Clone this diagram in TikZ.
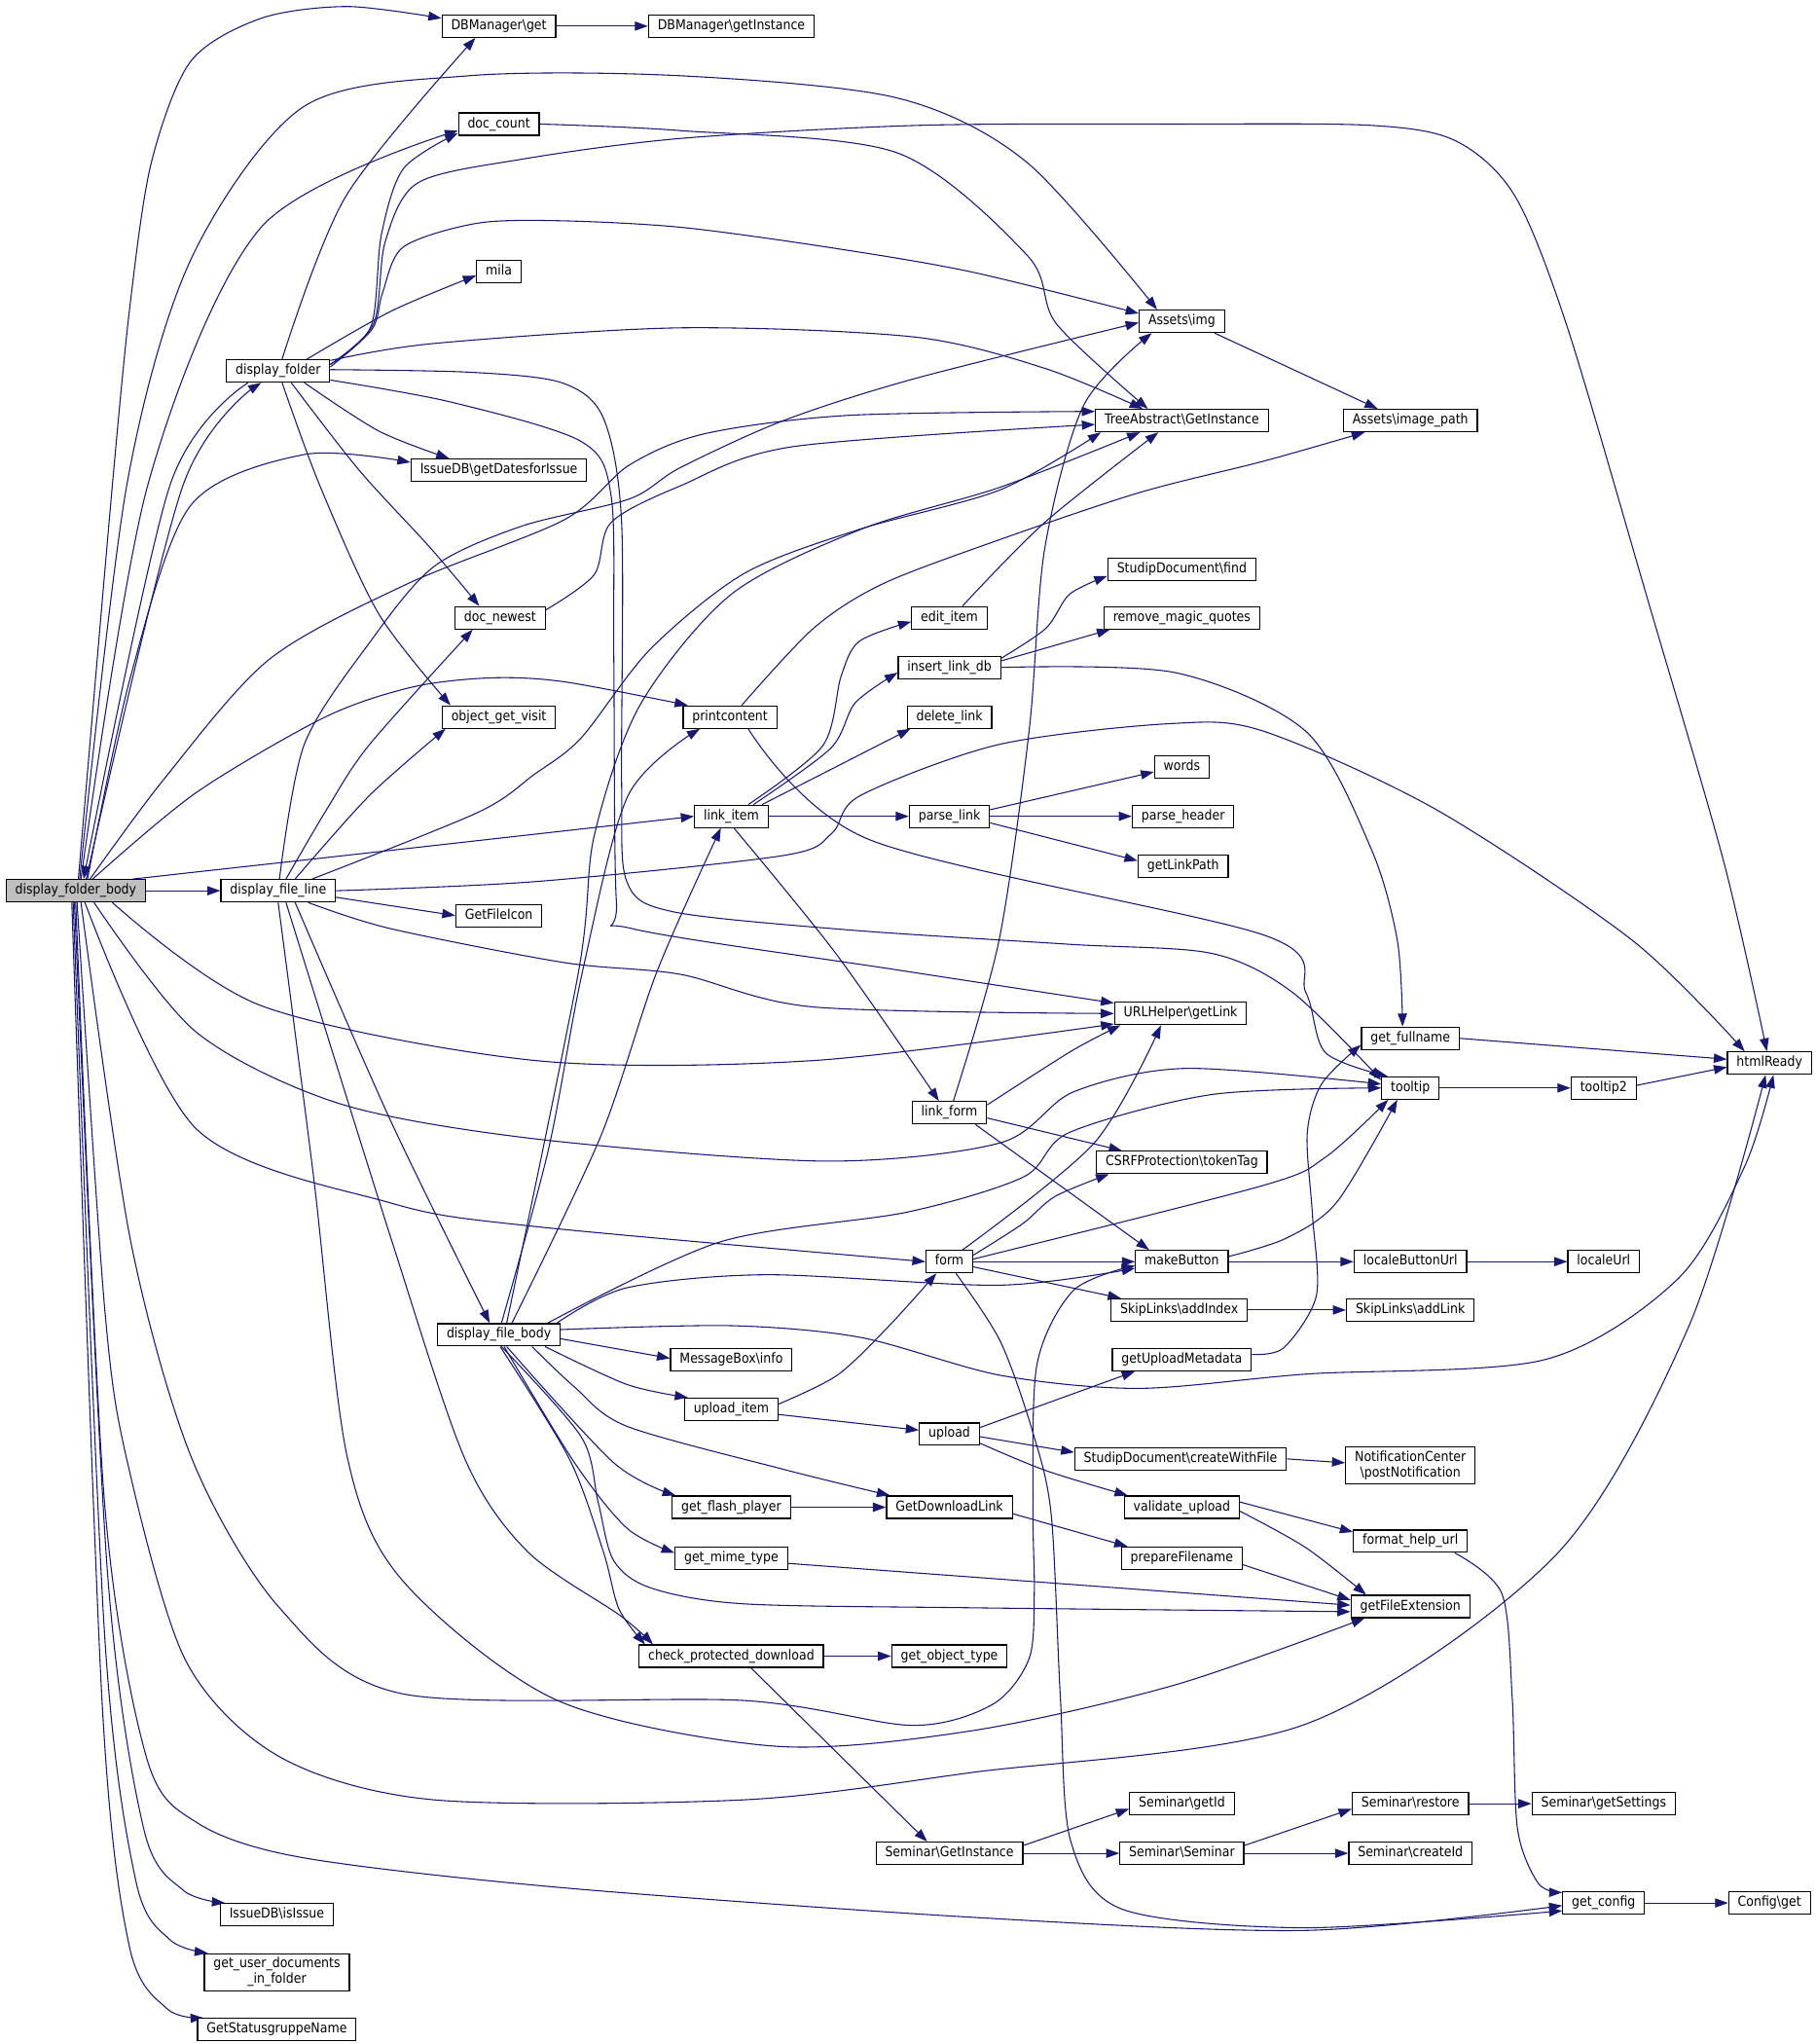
\documentclass[tikz,border=0pt]{standalone}
\usepackage{fontspec}
\setmainfont{DejaVu Sans}[FakeStretch=0.89]
\usetikzlibrary{arrows.meta,backgrounds}
\definecolor{edgeblue}{HTML}{191970}
\definecolor{rootgray}{HTML}{BFBFBF}

\begin{document}
\begin{tikzpicture}[x=1pt, y=-1pt,
    fn/.style={draw=black, fill=white, line width=0.9pt, inner xsep=7pt, inner ysep=3.5pt,
      text height=7.7pt, text depth=2.4pt, font=\fontsize{10.5}{12}\selectfont},
    fnroot/.style={fn, fill=rootgray},
    fntwo/.style={draw=black, fill=white, line width=0.9pt, inner xsep=7pt, inner ysep=3pt,
      align=center, font=\fontsize{10.5}{12}\selectfont},
    call/.style={draw=edgeblue, line width=0.8pt, -{Triangle[length=10pt,width=7pt]}}]
    \useasboundingbox (0,0) rectangle (1390,1565);

    % Column 1 and 2
    \node[fnroot] (dfb) at (58,682) {display\_folder\_body};
    \node[fn] (dfolder) at (213,284) {display\_folder};
    \node[fn] (dfline) at (213,682) {display\_file\_line};
    \node[fn] (isissue) at (212,1466) {IssueDB\textbackslash isIssue};
    \node[fntwo] (userdocs) at (212,1510) {get\_user\_documents\\\_in\_folder};
    \node[fn] (statusgr) at (212,1554) {GetStatusgruppeName};

    % Column 3
    \node[fn] (dbget) at (382,20) {DBManager\textbackslash get};
    \node[fn] (doccount) at (382,95) {doc\_count};
    \node[fn] (mila) at (382,208) {mila};
    \node[fn] (datesissue) at (382,360) {IssueDB\textbackslash getDatesforIssue};
    \node[fn] (docnewest) at (383,473) {doc\_newest};
    \node[fn] (visit) at (382,549) {object\_get\_visit};
    \node[fn] (fileicon) at (382,701) {GetFileIcon};
    \node[fn] (dfbody) at (382,1022) {display\_file\_body};

    % Column 4
    \node[fn] (dbinst) at (560,20) {DBManager\textbackslash getInstance};
    \node[fn] (printc) at (559,549) {printcontent};
    \node[fn] (linkitem) at (560,625) {link\_item};
    \node[fn] (msginfo) at (560,1041) {MessageBox\textbackslash info};
    \node[fn] (uploaditem) at (560,1079) {upload\_item};
    \node[fn] (flash) at (560,1154) {get\_flash\_player};
    \node[fn] (mime) at (560,1193) {get\_mime\_type};
    \node[fn] (checkdl) at (560,1268) {check\_protected\_download};

    % Column 5
    \node[fn] (edititem) at (727,473) {edit\_item};
    \node[fn] (insertdb) at (727,511) {insert\_link\_db};
    \node[fn] (deletelink) at (727,549) {delete\_link};
    \node[fn] (parselink) at (727,625) {parse\_link};
    \node[fn] (linkform) at (727,852) {link\_form};
    \node[fn] (form) at (727,966) {form};
    \node[fn] (upload) at (727,1098) {upload};
    \node[fn] (getdl) at (727,1154) {GetDownloadLink};
    \node[fn] (objtype) at (727,1268) {get\_object\_type};
    \node[fn] (seminst) at (727,1419) {Seminar\textbackslash GetInstance};

    % Column 6
    \node[fn] (img) at (905,246) {Assets\textbackslash img};
    \node[fn] (treeinst) at (905,322) {TreeAbstract\textbackslash GetInstance};
    \node[fn] (sdfind) at (905,436) {StudipDocument\textbackslash find};
    \node[fn] (magic) at (905,473) {remove\_magic\_quotes};
    \node[fn] (words) at (905,587) {words};
    \node[fn] (parsehdr) at (906,625) {parse\_header};
    \node[fn] (linkpath) at (906,663) {getLinkPath};
    \node[fn] (urlget) at (904,776) {URLHelper\textbackslash getLink};
    \node[fn] (csrf) at (905,890) {CSRFProtection\textbackslash tokenTag};
    \node[fn] (mkbutton) at (905,966) {makeButton};
    \node[fn] (addindex) at (903,1003) {SkipLinks\textbackslash addIndex};
    \node[fn] (uploadmeta) at (905,1041) {getUploadMetadata};
    \node[fn] (createfile) at (904,1117) {StudipDocument\textbackslash createWithFile};
    \node[fn] (validate) at (905,1154) {validate\_upload};
    \node[fn] (prepname) at (905,1193) {prepareFilename};
    \node[fn] (semid) at (905,1381) {Seminar\textbackslash getId};
    \node[fn] (semsem) at (905,1419) {Seminar\textbackslash Seminar};

    % Column 7
    \node[fn] (imgpath) at (1080,322) {Assets\textbackslash image\_path};
    \node[fn] (fullname) at (1080,795) {get\_fullname};
    \node[fn] (tooltip) at (1080,833) {tooltip};
    \node[fn] (lbuttonurl) at (1080,966) {localeButtonUrl};
    \node[fn] (addlink) at (1080,1003) {SkipLinks\textbackslash addLink};
    \node[fntwo] (notify) at (1080,1122) {NotificationCenter\\\textbackslash postNotification};
    \node[fn] (helpurl) at (1080,1180) {format\_help\_url};
    \node[fn] (fileext) at (1080,1230) {getFileExtension};
    \node[fn] (restore) at (1080,1381) {Seminar\textbackslash restore};
    \node[fn] (createid) at (1080,1419) {Seminar\textbackslash createId};

    % Columns 8 and 9
    \node[fn] (tooltiptwo) at (1228,833) {tooltip2};
    \node[fn] (localeurl) at (1228,966) {localeUrl};
    \node[fn] (settings) at (1228,1381) {Seminar\textbackslash getSettings};
    \node[fn] (getconfig) at (1228,1457) {get\_config};
    \node[fn] (htmlready) at (1355,814) {htmlReady};
    \node[fn] (configget) at (1355,1457) {Config\textbackslash get};

    \begin{scope}[on background layer]
    \fill[white] (0,0) rectangle (1390,1565);

    % Calls of display_folder_body
    \draw[call] plot[smooth] coordinates {([xshift=2]dfb.north) (86,372) (100,230) (116,124) (146,47) (200,14) (266,5) ([yshift=6]dbget.west)};
    \draw[call] plot[smooth] coordinates {([xshift=3]dfb.north) (97,372) (146,199) (232,82) (359,58) (521,58) (687,75) (786,124) ([xshift=-19]img.north)};
    \draw[call] plot[smooth] coordinates {([xshift=4]dfb.north) (113,372) (200,174) ([yshift=-5]doccount.west)};
    \draw[call] plot[smooth] coordinates {([xshift=8]dfb.north) (140,372) ([xshift=-13]dfolder.south)};
    \draw[call] plot[smooth] coordinates {([xshift=9]dfb.north) (100,518) (146,387) (233,348) ([yshift=6]datesissue.west)};
    \draw[call] plot[smooth] coordinates {([xshift=11]dfb.north) (126,596) (206,505) (312,447) (432,398) (482,356) (540,332) (650,318) ([yshift=7]treeinst.west)};
    \draw[call] plot[smooth] coordinates {([xshift=13]dfb.north) (150,607) (249,549) (316,526) (376,519) (432,522) ([xshift=4]printc.north west)};
    \draw[call] plot[smooth] coordinates {([xshift=-10]dfb.north east) (300,651) (linkitem.west)};
    \draw[call] (dfb.east) -- (dfline.west);
    \draw[call] plot[smooth] coordinates {([xshift=28]dfb.south) (200,770) (410,812) (623,812) ([yshift=-8]urlget.west)};
    \draw[call] plot[smooth] coordinates {([xshift=14]dfb.south) (150,790) (260,845) (410,872) (631,889) (766,875) (822,836) (908,818) ([yshift=3]tooltip.west)};
    \draw[call] plot[smooth] coordinates {([xshift=7]dfb.south) (150,864) (299,921) (409,939) (form.west)};
    \draw[call] plot[smooth] coordinates {([xshift=4]dfb.south) (100,950) (147,1117) (214,1231) (309,1297) (570,1302) (698,1321) (760,1305) (788,1270) (792,1220) (791,1154) (794,1045) (822,988) ([yshift=-3]mkbutton.west)};
    \draw[call] plot[smooth] coordinates {([xshift=1]dfb.south) (80,1000) (97,1117) (142,1271) (214,1345) (332,1378) (570,1378) (745,1357) (1000,1320) (1191,1191) (1293,1016) ([xshift=-3]htmlready.south)};
    \draw[call] plot[smooth] coordinates {(dfb.south) (80,1150) (112,1345) (150,1395) (230,1422) (427,1445) (745,1468) (1000,1478) ([yshift=-2]getconfig.west)};
    \draw[call] plot[smooth] coordinates {([xshift=-1]dfb.south) (82,1200) (110,1400) (140,1447) ([xshift=4]isissue.north west)};
    \draw[call] plot[smooth] coordinates {([xshift=-2]dfb.south) (80,1250) (104,1440) (130,1485) ([xshift=3]userdocs.north west)};
    \draw[call] plot[smooth] coordinates {([xshift=-3]dfb.south) (78,1300) (99,1490) (128,1538) ([xshift=5]statusgr.north west)};

    % Calls of display_folder
    \draw[call] plot[smooth] coordinates {([xshift=-23]dfolder.south) (130,372) ([xshift=6]dfb.north)};
    \draw[call] plot[smooth] coordinates {([xshift=3]dfolder.north) (265,150) ([xshift=-18]dbget.south)};
    \draw[call] plot[smooth] coordinates {([yshift=5]dfolder.east) (284,250) (292,180) (309,129) ([yshift=-7]doccount.west)};
    \draw[call] plot[smooth] coordinates {([xshift=22]dfolder.north) (300,238) ([yshift=-3]mila.west)};
    \draw[call] plot[smooth] coordinates {([yshift=5]dfolder.east) (286,248) (295,185) (320,140) (399,122) (521,106) (703,96) (900,95) (1050,96) (1115,108) (1160,150) (1200,250) (1262,460) (1320,660) ([xshift=-2]htmlready.north)};
    \draw[call] plot[smooth] coordinates {([yshift=3]dfolder.east) (285,252) (293,224) (309,189) (365,171) (428,169) (521,174) (632,189) (743,208) ([yshift=6]img.west)};
    \draw[call] plot[smooth] coordinates {([yshift=8]dfolder.east) (332,263) (521,251) (700,258) (800,282) ([xshift=-30]treeinst.north)};
    \draw[call] plot[smooth] coordinates {([xshift=20]dfolder.south) (290,330) ([xshift=-38]datesissue.north)};
    \draw[call] plot[smooth] coordinates {([xshift=10]dfolder.south) (275,360) (330,420) ([xshift=-16]docnewest.north)};
    \draw[call] plot[smooth] coordinates {([xshift=3]dfolder.south) (245,372) (290,470) ([xshift=-37]visit.north)};
    \draw[call] plot[smooth] coordinates {([yshift=-7]dfolder.east) (346,308) (445,338) (468,380) (470,500) (472,690) (484,711) (683,742) ([yshift=8]urlget.west)};
    \draw[call] plot[smooth] coordinates {([yshift=1]dfolder.east) (360,285) (430,293) (462,320) (476,400) (476,600) (480,675) (515,698) (650,712) (819,723) (928,730) (990,760) ([yshift=6]tooltip.west)};

    % Calls of display_file_line
    \draw[call] plot[smooth] coordinates {([xshift=6]dfline.north) (250,620) (283,570) ([xshift=-21]docnewest.south)};
    \draw[call] plot[smooth] coordinates {([xshift=13]dfline.north) (283,609) ([xshift=3]visit.south west)};
    \draw[call] plot[smooth] coordinates {([xshift=1]dfline.north) (233,570) (283,492) (332,434) (399,403) (482,382) (521,358) (600,322) (700,290) ([yshift=-1]img.west)};
    \draw[call] plot[smooth] coordinates {([xshift=26]dfline.north) (366,622) (409,593) (445,565) (498,497) (570,439) (659,405) (766,375) ([xshift=-62]treeinst.south)};
    \draw[call] plot[smooth] coordinates {(dfline.east) (410,675) (600,655) (637,638) (659,609) (765,570) (897,554) (968,560) (1100,620) (1250,720) ([xshift=-19]htmlready.north)};
    \draw[call] plot[smooth] coordinates {([xshift=23]dfline.south) (299,711) (432,737) (521,746) (623,771) (urlget.west)};
    \draw[call] ([yshift=-5]dfline.east) -- (fileicon.west);
    \draw[call] plot[smooth] coordinates {([xshift=13]dfline.south) (300,860) ([xshift=-7]dfbody.north)};
    \draw[call] plot[smooth] coordinates {([xshift=6]dfline.south) (300,950) (356,1117) (404,1188) (475,1237) ([xshift=-60]checkdl.north)};
    \draw[call] plot[smooth] coordinates {(dfline.south) (240,900) (266,1116) (309,1211) (427,1302) (594,1337) (745,1325) (900,1290) ([xshift=-35]fileext.south)};

    % Calls of display_file_body
    \draw[call] plot[smooth] coordinates {([xshift=6]dfbody.north) (443,744) (455,640) (490,540) (560,455) (660,405) (766,373) ([xshift=-32]treeinst.south)};
    \draw[call] plot[smooth] coordinates {([xshift=2]dfbody.north) (420,880) (446,744) (481,609) ([xshift=-23]printc.south)};
    \draw[call] plot[smooth] coordinates {([xshift=10]dfbody.north) (460,870) (503,744) ([xshift=-8]linkitem.south)};
    \draw[call] plot[smooth] coordinates {([xshift=-10]dfbody.north east) (551,951) (695,928) (784,901) (819,867) (928,838) (tooltip.west)};
    \draw[call] plot[smooth] coordinates {([xshift=-3]dfbody.north east) (480,986) (587,976) (765,984) ([yshift=-5]mkbutton.west)};
    \draw[call] plot[smooth] coordinates {([yshift=4]dfbody.east) (560,1015) (659,1024) (766,1053) (872,1063) (1001,1052) (1183,1041) (1285,979) (1336,893) ([xshift=3]htmlready.south)};
    \draw[call] ([yshift=-3]dfbody.east) -- ([yshift=1]msginfo.west);
    \draw[call] plot[smooth] coordinates {([xshift=-12]dfbody.south east) (480,1060) ([xshift=3]uploaditem.north west)};
    \draw[call] plot[smooth] coordinates {([xshift=-22]dfbody.south east) (440,1062) (480,1092) (600,1125) ([xshift=3]getdl.north west)};
    \draw[call] plot[smooth] coordinates {([xshift=6]dfbody.south) (470,1120) ([xshift=3]flash.north west)};
    \draw[call] plot[smooth] coordinates {([xshift=4]dfbody.south) (440,1120) (480,1170) ([yshift=4]mime.west)};
    \draw[call] plot[smooth] coordinates {([xshift=1]dfbody.south) (436,1117) (462,1188) (474,1232) ([xshift=-66]checkdl.north)};
    \draw[call] plot[smooth] coordinates {([xshift=2]dfbody.south) (445,1100) (458,1150) (470,1195) (499,1216) (570,1228) (745,1231) ([yshift=-4]fileext.west)};

    % link_item and its callees
    \draw[call] plot[smooth] coordinates {([xshift=13]linkitem.north) (630,571) (644,518) (658,491) ([yshift=-3]edititem.west)};
    \draw[call] plot[smooth] coordinates {([xshift=17]linkitem.north) (636,573) (655,538) ([yshift=-4]insertdb.west)};
    \draw[call] ([xshift=-5]linkitem.north east) -- ([xshift=3]deletelink.south west);
    \draw[call] (linkitem) -- (parselink);
    \draw[call] plot[smooth] coordinates {([xshift=2]linkitem.south) (640,730) ([xshift=-8]linkform.north)};
    \draw[call] plot[smooth] coordinates {([xshift=10]edititem.north) (800,400) ([xshift=-18]treeinst.south)};
    \draw[call] plot[smooth] coordinates {([yshift=7]insertdb.east) (801,481) (819,455) ([yshift=-5]sdfind.west)};
    \draw[call] ([yshift=5]insertdb.east) -- ([xshift=5]magic.south west);
    \draw[call] plot[smooth] coordinates {(insertdb.east) (900,515) (1000,560) (1050,650) (1070,720) ([xshift=-6]fullname.north)};
    \draw[call] plot[smooth] coordinates {([xshift=9]printc.north) (623,481) (676,447) (766,413) (873,377) (968,353) ([xshift=-35]imgpath.south)};
    \draw[call] plot[smooth] coordinates {([xshift=14]printc.south) (666,643) (968,716) (1000,760) (1015,806) ([xshift=5]tooltip.north west)};
    \draw[call] ([yshift=5]parselink.east) -- ([yshift=-4]words.west);
    \draw[call] (parselink) -- (parsehdr);
    \draw[call] ([yshift=-5]parselink.east) -- ([yshift=4]linkpath.west);

    % link_form and form
    \draw[call] plot[smooth] coordinates {([xshift=3]linkform.north) (765,720) (788,560) (800,420) (830,310) ([xshift=-23]img.south)};
    \draw[call] plot[smooth] coordinates {([yshift=6]linkform.east) (820,805) ([xshift=5]urlget.south west)};
    \draw[call] ([yshift=-4]linkform.east) -- ([xshift=20]csrf.north west);
    \draw[call] ([xshift=20]linkform.south) -- ([xshift=-25]mkbutton.north);
    \draw[call] plot[smooth] coordinates {([xshift=10]form.north) (838,875) ([xshift=-15]urlget.south)};
    \draw[call] plot[smooth] coordinates {([yshift=5]form.east) (783,937) (808,916) ([xshift=10]csrf.south west)};
    \draw[call] plot[smooth] coordinates {([yshift=2]form.east) (966,908) (1015,886) ([xshift=-17]tooltip.south)};
    \draw[call] (form) -- (mkbutton);
    \draw[call] ([yshift=-4]form.east) -- ([xshift=8]addindex.north west);
    \draw[call] plot[smooth] coordinates {([xshift=5]form.south) (766,1027) (791,1097) (805,1160) (812,1300) (820,1410) (860,1462) (1000,1476) ([yshift=-6]getconfig.west)};
    \draw[call] plot[smooth] coordinates {([yshift=4]mkbutton.east) (985,948) (1024,920) ([xshift=-10]tooltip.south)};
    \draw[call] (mkbutton) -- (lbuttonurl);
    \draw[call] (lbuttonurl) -- (localeurl);
    \draw[call] (addindex) -- (addlink);

    % upload branch
    \draw[call] plot[smooth] coordinates {([yshift=4]uploaditem.east) (641,1053) (680,1016) ([xshift=-10]form.south)};
    \draw[call] ([yshift=-4]uploaditem.east) -- ([yshift=3]upload.west);
    \draw[call] ([yshift=5]upload.east) -- ([xshift=-36]uploadmeta.south);
    \draw[call] ([yshift=-2]upload.east) -- ([yshift=5]createfile.west);
    \draw[call] plot[smooth] coordinates {([yshift=-7]upload.east) (801,1126) ([xshift=3]validate.north west)};
    \draw[call] (createfile.east) -- ([yshift=2]notify.west);
    \draw[call] ([yshift=4]validate.east) -- ([yshift=7]helpurl.west);
    \draw[call] plot[smooth] coordinates {([yshift=-3]validate.east) (1000,1185) ([xshift=12]fileext.north west)};
    \draw[call] plot[smooth] coordinates {([xshift=-10]helpurl.south east) (1150,1220) (1158,1300) (1162,1400) (1178,1442) ([yshift=-1]getconfig.north west)};
    \draw[call] ([yshift=-5]prepname.east) -- ([yshift=5]fileext.west);
    \draw[call] ([yshift=-4]mime.east) -- ([yshift=1]fileext.west);
    \draw[call] (flash) -- (getdl);
    \draw[call] ([yshift=-5]getdl.east) -- ([xshift=5]prepname.north west);
    \draw[call] plot[smooth] coordinates {([yshift=4]uploadmeta.east) (983,1032) (1008,992) (1005,930) (1001,868) (1012,830) ([yshift=-5]fullname.west)};

    % check_protected_download and Seminar
    \draw[call] (checkdl) -- (objtype);
    \draw[call] ([xshift=15]checkdl.south) -- ([xshift=-17]seminst.north);
    \draw[call] ([yshift=6]seminst.east) -- ([yshift=-4]semid.west);
    \draw[call] (seminst) -- (semsem);
    \draw[call] ([yshift=6]semsem.east) -- ([yshift=-4]restore.west);
    \draw[call] (semsem) -- (createid);
    \draw[call] (restore) -- (settings);
    \draw[call] (getconfig) -- (configget);

    % Right side
    \draw[call] (fullname.east) -- ([yshift=3]htmlready.west);
    \draw[call] (tooltip) -- (tooltiptwo);
    \draw[call] ([yshift=2]tooltiptwo.east) -- ([yshift=-3]htmlready.west);
    \draw[call] ([xshift=25]img.south) -- ([xshift=-25]imgpath.north);
    \draw[call] (dbget) -- (dbinst);
    \draw[call] plot[smooth] coordinates {(doccount.east) (521,100) (687,117) (787,196) (809,248) ([xshift=-26]treeinst.north)};
    \draw[call] plot[smooth] coordinates {([yshift=6]docnewest.east) (455,440) (468,400) (521,372) (607,342) ([yshift=-3]treeinst.west)};
    \end{scope}

\end{tikzpicture}
\end{document}
